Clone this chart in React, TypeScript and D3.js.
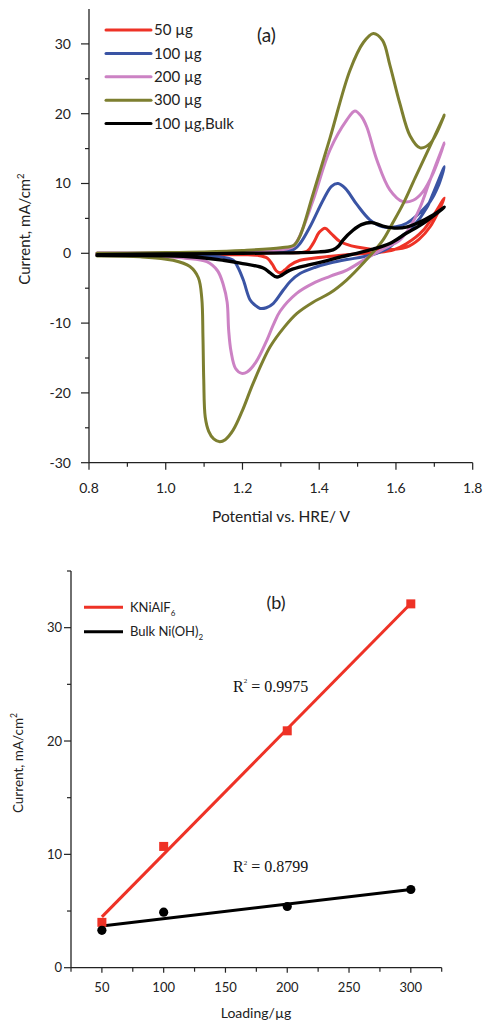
import React from "react";
import * as d3 from "d3";

// ---------- Panel (a): cyclic voltammograms [potential V, current mA/cm2] ----------
const seriesNames = ["50 µg", "100 µg", "200 µg", "300 µg", "100 µg,Bulk"];
const seriesColors = ["#ee3226", "#3a54a4", "#cc82c4", "#7d7f30", "#000000"];

const cv50: [number, number][] = [
  [0.821, 0], [1.0, 0], [1.2, 0], [1.3, 0.1], [1.368, 0.3], [1.385, 1.5], [1.4, 3.0], [1.415, 3.6],
  [1.43, 2.9], [1.454, 1.7], [1.498, 0.9], [1.566, 0.5], [1.628, 0.9], [1.66, 2.0], [1.689, 3.8], [1.726, 7.9],
  [1.671, 3.3], [1.628, 1.4], [1.594, 0.5], [1.55, 0.1], [1.472, -0.2], [1.384, -0.7], [1.35, -1.0],
  [1.324, -1.7], [1.31, -2.4], [1.298, -2.8], [1.288, -2.5], [1.278, -1.6], [1.265, -0.7], [1.24, -0.3],
  [1.2, -0.2], [0.821, -0.2],
];
const cv100: [number, number][] = [
  [0.821, 0], [1.0, 0], [1.2, 0.1], [1.3, 0.3], [1.335, 0.6], [1.35, 1.4], [1.376, 3.8], [1.41, 7.6],
  [1.432, 9.6], [1.449, 10.0], [1.468, 9.3], [1.498, 7.0], [1.532, 4.8], [1.566, 3.8], [1.6, 3.8],
  [1.628, 4.3], [1.66, 5.7], [1.689, 7.4], [1.71, 9.6], [1.726, 12.4],
  [1.70, 9.0], [1.681, 6.6], [1.644, 3.8], [1.603, 1.9], [1.584, 0.9], [1.55, 0], [1.515, -0.5],
  [1.472, -0.9], [1.428, -1.4], [1.39, -2.0], [1.35, -2.9], [1.325, -4.0], [1.306, -5.3], [1.28, -7.2],
  [1.262, -7.8], [1.246, -7.9], [1.232, -7.4], [1.22, -6.7], [1.202, -3.8], [1.188, -2.0], [1.176, -1.0],
  [1.14, -0.5], [1.089, -0.4], [0.821, -0.3],
];
const cv200: [number, number][] = [
  [0.821, 0], [1.0, 0], [1.2, 0.2], [1.3, 0.5], [1.33, 0.9], [1.345, 2.0], [1.384, 7.6], [1.428, 14.8],
  [1.472, 19.1], [1.493, 20.4], [1.51, 19.6], [1.524, 18.1], [1.55, 13.4], [1.584, 9.1], [1.618, 7.4],
  [1.645, 7.6], [1.67, 8.8], [1.697, 11.5], [1.726, 15.8],
  [1.689, 10.5], [1.663, 6.6], [1.637, 3.8], [1.61, 1.9], [1.566, 0.6], [1.524, -0.7], [1.472, -2.4],
  [1.428, -3.3], [1.384, -4.3], [1.342, -5.7], [1.298, -8.3], [1.28, -10.3], [1.264, -12.4],
  [1.235, -15.6], [1.212, -17.0], [1.198, -17.2], [1.182, -16.5], [1.17, -14], [1.164, -11], [1.16, -7],
  [1.15, -4.5], [1.135, -2.5], [1.107, -1.2], [1.05, -0.7], [0.95, -0.4], [0.821, -0.3],
];
const cv300: [number, number][] = [
  [0.821, 0], [0.9, 0], [1.0, 0.1], [1.1, 0.2], [1.2, 0.4], [1.3, 0.8], [1.335, 1.2], [1.35, 2.5],
  [1.384, 8.5], [1.428, 16.5], [1.48, 26.2], [1.515, 30.2], [1.541, 31.5], [1.565, 30.5], [1.584, 27],
  [1.61, 21.5], [1.637, 16.8], [1.663, 15.1], [1.69, 15.8], [1.726, 19.8],
  [1.69, 15.5], [1.65, 10.8], [1.618, 7.0], [1.59, 4.2], [1.566, 1.9], [1.515, -1.4], [1.472, -3.8],
  [1.428, -5.7], [1.384, -7.0], [1.342, -8.6], [1.31, -10.5], [1.272, -13.4], [1.228, -18.6], [1.2, -22.5],
  [1.176, -25.3], [1.155, -26.7], [1.141, -27.0], [1.125, -26.6], [1.112, -25.5], [1.103, -23.5],
  [1.099, -18], [1.097, -12], [1.094, -6.5], [1.085, -3.5], [1.063, -1.9], [1.019, -1.0], [0.933, -0.5],
  [0.821, -0.4],
];
const cvBulk: [number, number][] = [
  [0.821, -0.2], [1.0, -0.1], [1.2, 0], [1.4, 0.2], [1.436, 0.5], [1.45, 1.0], [1.462, 1.9], [1.488, 3.3],
  [1.51, 4.1], [1.537, 4.4], [1.566, 3.9], [1.603, 3.6], [1.63, 3.8], [1.655, 4.3], [1.697, 5.5], [1.726, 6.6],
  [1.671, 4.3], [1.628, 2.9], [1.584, 1.4], [1.54, 0.6], [1.498, 0], [1.45, -0.6], [1.41, -1.2],
  [1.37, -1.7], [1.324, -2.4], [1.29, -3.4], [1.272, -2.8], [1.254, -2.1], [1.194, -1.4], [1.15, -1.0],
  [1.063, -0.5], [0.821, -0.3],
];
const cvSeries = [cv50, cv100, cv200, cv300, cvBulk];

const xTicksA = [0.8, 1.0, 1.2, 1.4, 1.6, 1.8];
const xMinorA = [0.9, 1.1, 1.3, 1.5, 1.7];
const yTicksA = [-30, -20, -10, 0, 10, 20, 30];
const yMinorA = [-25, -15, -5, 5, 15, 25];

// ---------- Panel (b): peak current vs loading ----------
const loadings = [50, 100, 200, 300];
const kniCurrent = [4.0, 10.7, 20.9, 32.1];
const bulkCurrent = [3.3, 4.9, 5.4, 6.9];
const r2Labels = ["0.9975", "0.8799"];
const xTicksB = [50, 100, 150, 200, 250, 300];
const xMinorB = [25, 75, 125, 175, 225, 275, 325];
const yTicksB = [0, 10, 20, 30];
const yMinorB = [5, 15, 25, 35];

function fit(xs: number[], ys: number[]) {
  const mx = d3.mean(xs)!;
  const my = d3.mean(ys)!;
  let sxy = 0, sxx = 0;
  xs.forEach((x, i) => { sxy += (x - mx) * (ys[i] - my); sxx += (x - mx) * (x - mx); });
  const b = sxy / sxx;
  return (x: number) => my + b * (x - mx);
}

const SANS = "Lato, 'Open Sans', sans-serif";
const AX = "#222";
const TXT = "#222";

export default function App() {
  const xA = d3.scaleLinear().domain([0.8, 1.8]).range([89, 472.7]);
  const yA = d3.scaleLinear().domain([-30, 35]).range([462.7, 9.0]);
  const lineA = d3.line<[number, number]>()
    .x((d) => xA(d[0]))
    .y((d) => yA(d[1]))
    .curve(d3.curveCatmullRom.alpha(0.5));

  const xB = d3.scaleLinear().domain([25, 325]).range([71, 441.7]);
  const yB = d3.scaleLinear().domain([0, 35]).range([967.7, 571]);
  const fitK = fit(loadings, kniCurrent);
  const fitBk = fit(loadings, bulkCurrent);
  const x0 = loadings[0];
  const x1 = loadings[loadings.length - 1];

  const legendYA = [30, 53.4, 76.8, 100.2, 123.6];

  return (
    <svg width={484} height={1021} style={{ position: "absolute", left: 0, top: 0, background: "#fff" }}
      fontFamily={SANS}>
      <rect x={0} y={0} width={484} height={1021} fill="#fff" />
      {/* ===== Panel (a) ===== */}
      <g>
        <line x1={xA(0.8)} x2={xA(0.8)} y1={yA(35)} y2={yA(-30)} stroke={AX} strokeWidth={1.3} />
        <line x1={xA(0.8)} x2={xA(1.8)} y1={yA(-30)} y2={yA(-30)} stroke={AX} strokeWidth={1.3} />
        {yTicksA.map((t) => (
          <g key={"ya" + t}>
            <line x1={xA(0.8) - 8} x2={xA(0.8)} y1={yA(t)} y2={yA(t)} stroke={AX} strokeWidth={1.2} />
            <text x={71} y={yA(t)} dy="0.35em" textAnchor="end" fontSize={14} fill={TXT}>{t}</text>
          </g>
        ))}
        {yMinorA.map((t) => (
          <line key={"yam" + t} x1={xA(0.8) - 4} x2={xA(0.8)} y1={yA(t)} y2={yA(t)} stroke={AX} strokeWidth={1.2} />
        ))}
        {xTicksA.map((t) => (
          <g key={"xa" + t}>
            <line x1={xA(t)} x2={xA(t)} y1={yA(-30)} y2={yA(-30) + 7} stroke={AX} strokeWidth={1.2} />
            <text x={xA(t)} y={493} textAnchor="middle" fontSize={14} fill={TXT}>{t.toFixed(1)}</text>
          </g>
        ))}
        {xMinorA.map((t) => (
          <line key={"xam" + t} x1={xA(t)} x2={xA(t)} y1={yA(-30)} y2={yA(-30) + 4} stroke={AX} strokeWidth={1.2} />
        ))}
        <text x={281} y={522} textAnchor="middle" fontSize={15.5} fill={TXT}>Potential vs. HRE/ V</text>
        <text transform="translate(30,229) rotate(-90)" textAnchor="middle" fontSize={15} fill={TXT}>
          Current, mA/cm<tspan dy="-6" fontSize={9.5}>2</tspan>
        </text>

        {cvSeries.map((s, i) => (
          <path key={"cv" + i} d={lineA(s) || ""} fill="none" stroke={seriesColors[i]}
            strokeWidth={i === 4 ? 3.4 : 3} strokeLinejoin="round" strokeLinecap="round" />
        ))}

        {seriesNames.map((n, i) => (
          <g key={"lg" + i}>
            <line x1={106} x2={151} y1={legendYA[i]} y2={legendYA[i]} stroke={seriesColors[i]} strokeWidth={3} strokeLinecap="round" />
            <text x={154} y={legendYA[i]} dy="0.35em" fontSize={15} fill={TXT}>{n}</text>
          </g>
        ))}
        <text x={266.5} y={35} dy="0.35em" textAnchor="middle" fontSize={19} fill={TXT}>(a)</text>
      </g>

      {/* ===== Panel (b) ===== */}
      <g>
        <line x1={xB(25)} x2={xB(25)} y1={yB(35)} y2={yB(0)} stroke={AX} strokeWidth={1.3} />
        <line x1={xB(25)} x2={xB(325)} y1={yB(0)} y2={yB(0)} stroke={AX} strokeWidth={1.3} />
        {yTicksB.map((t) => (
          <g key={"yb" + t}>
            <line x1={xB(25) - 7} x2={xB(25)} y1={yB(t)} y2={yB(t)} stroke={AX} strokeWidth={1.2} />
            <text x={62} y={yB(t)} dy="0.35em" textAnchor="end" fontSize={13} fill={TXT}>{t}</text>
          </g>
        ))}
        {yMinorB.map((t) => (
          <line key={"ybm" + t} x1={xB(25) - 4} x2={xB(25)} y1={yB(t)} y2={yB(t)} stroke={AX} strokeWidth={1.2} />
        ))}
        {xTicksB.map((t) => (
          <g key={"xb" + t}>
            <line x1={xB(t)} x2={xB(t)} y1={yB(0)} y2={yB(0) + 5} stroke={AX} strokeWidth={1.2} />
            <text x={xB(t)} y={992} textAnchor="middle" fontSize={13} fill={TXT}>{t}</text>
          </g>
        ))}
        {xMinorB.map((t) => (
          <line key={"xbm" + t} x1={xB(t)} x2={xB(t)} y1={yB(0)} y2={yB(0) + 4} stroke={AX} strokeWidth={1.2} />
        ))}
        <text x={256} y={1018} textAnchor="middle" fontSize={14} fill={TXT}>Loading/µg</text>
        <text transform="translate(23,763) rotate(-90)" textAnchor="middle" fontSize={13.5} fill={TXT}>
          Current, mA/cm<tspan dy="-6" fontSize={8.5}>2</tspan>
        </text>

        {/* fit lines */}
        <line x1={xB(x0)} x2={xB(x1)} y1={yB(fitK(x0))} y2={yB(fitK(x1))} stroke="#ee3226" strokeWidth={3} />
        <line x1={xB(x0)} x2={xB(x1)} y1={yB(fitBk(x0))} y2={yB(fitBk(x1))} stroke="#000" strokeWidth={3} />

        {loadings.map((x, i) => (
          <rect key={"sq" + i} x={xB(x) - 4.5} y={yB(kniCurrent[i]) - 4.5} width={9} height={9} fill="#ee3226" />
        ))}
        {loadings.map((x, i) => (
          <circle key={"ci" + i} cx={xB(x)} cy={yB(bulkCurrent[i])} r={4.6} fill="#000" />
        ))}

        {/* legend */}
        <line x1={84} x2={123} y1={607.3} y2={607.3} stroke="#ee3226" strokeWidth={3} />
        <text x={130} y={607.3} dy="0.35em" fontSize={13} fill={TXT}>
          KNiAlF<tspan dy="4" fontSize={8}>6</tspan>
        </text>
        <line x1={84} x2={123} y1={631.7} y2={631.7} stroke="#000" strokeWidth={3} />
        <text x={130} y={631.7} dy="0.35em" fontSize={13} fill={TXT}>
          Bulk Ni(OH)<tspan dy="4" fontSize={8}>2</tspan>
        </text>
        <text x={276} y={603} dy="0.35em" textAnchor="middle" fontSize={18} fill={TXT}>(b)</text>

        {/* R² annotations */}
        <text x={233} y={692} fontFamily="'Liberation Serif', 'Times New Roman', serif" fontSize={16} fill="#111">
          R<tspan dy="-9" fontSize={7}>2</tspan><tspan dy="9"> = {r2Labels[0]}</tspan>
        </text>
        <text x={233} y={872} fontFamily="'Liberation Serif', 'Times New Roman', serif" fontSize={16} fill="#111">
          R<tspan dy="-7" fontSize={7}>2</tspan><tspan dy="7"> = {r2Labels[1]}</tspan>
        </text>
      </g>
    </svg>
  );
}
